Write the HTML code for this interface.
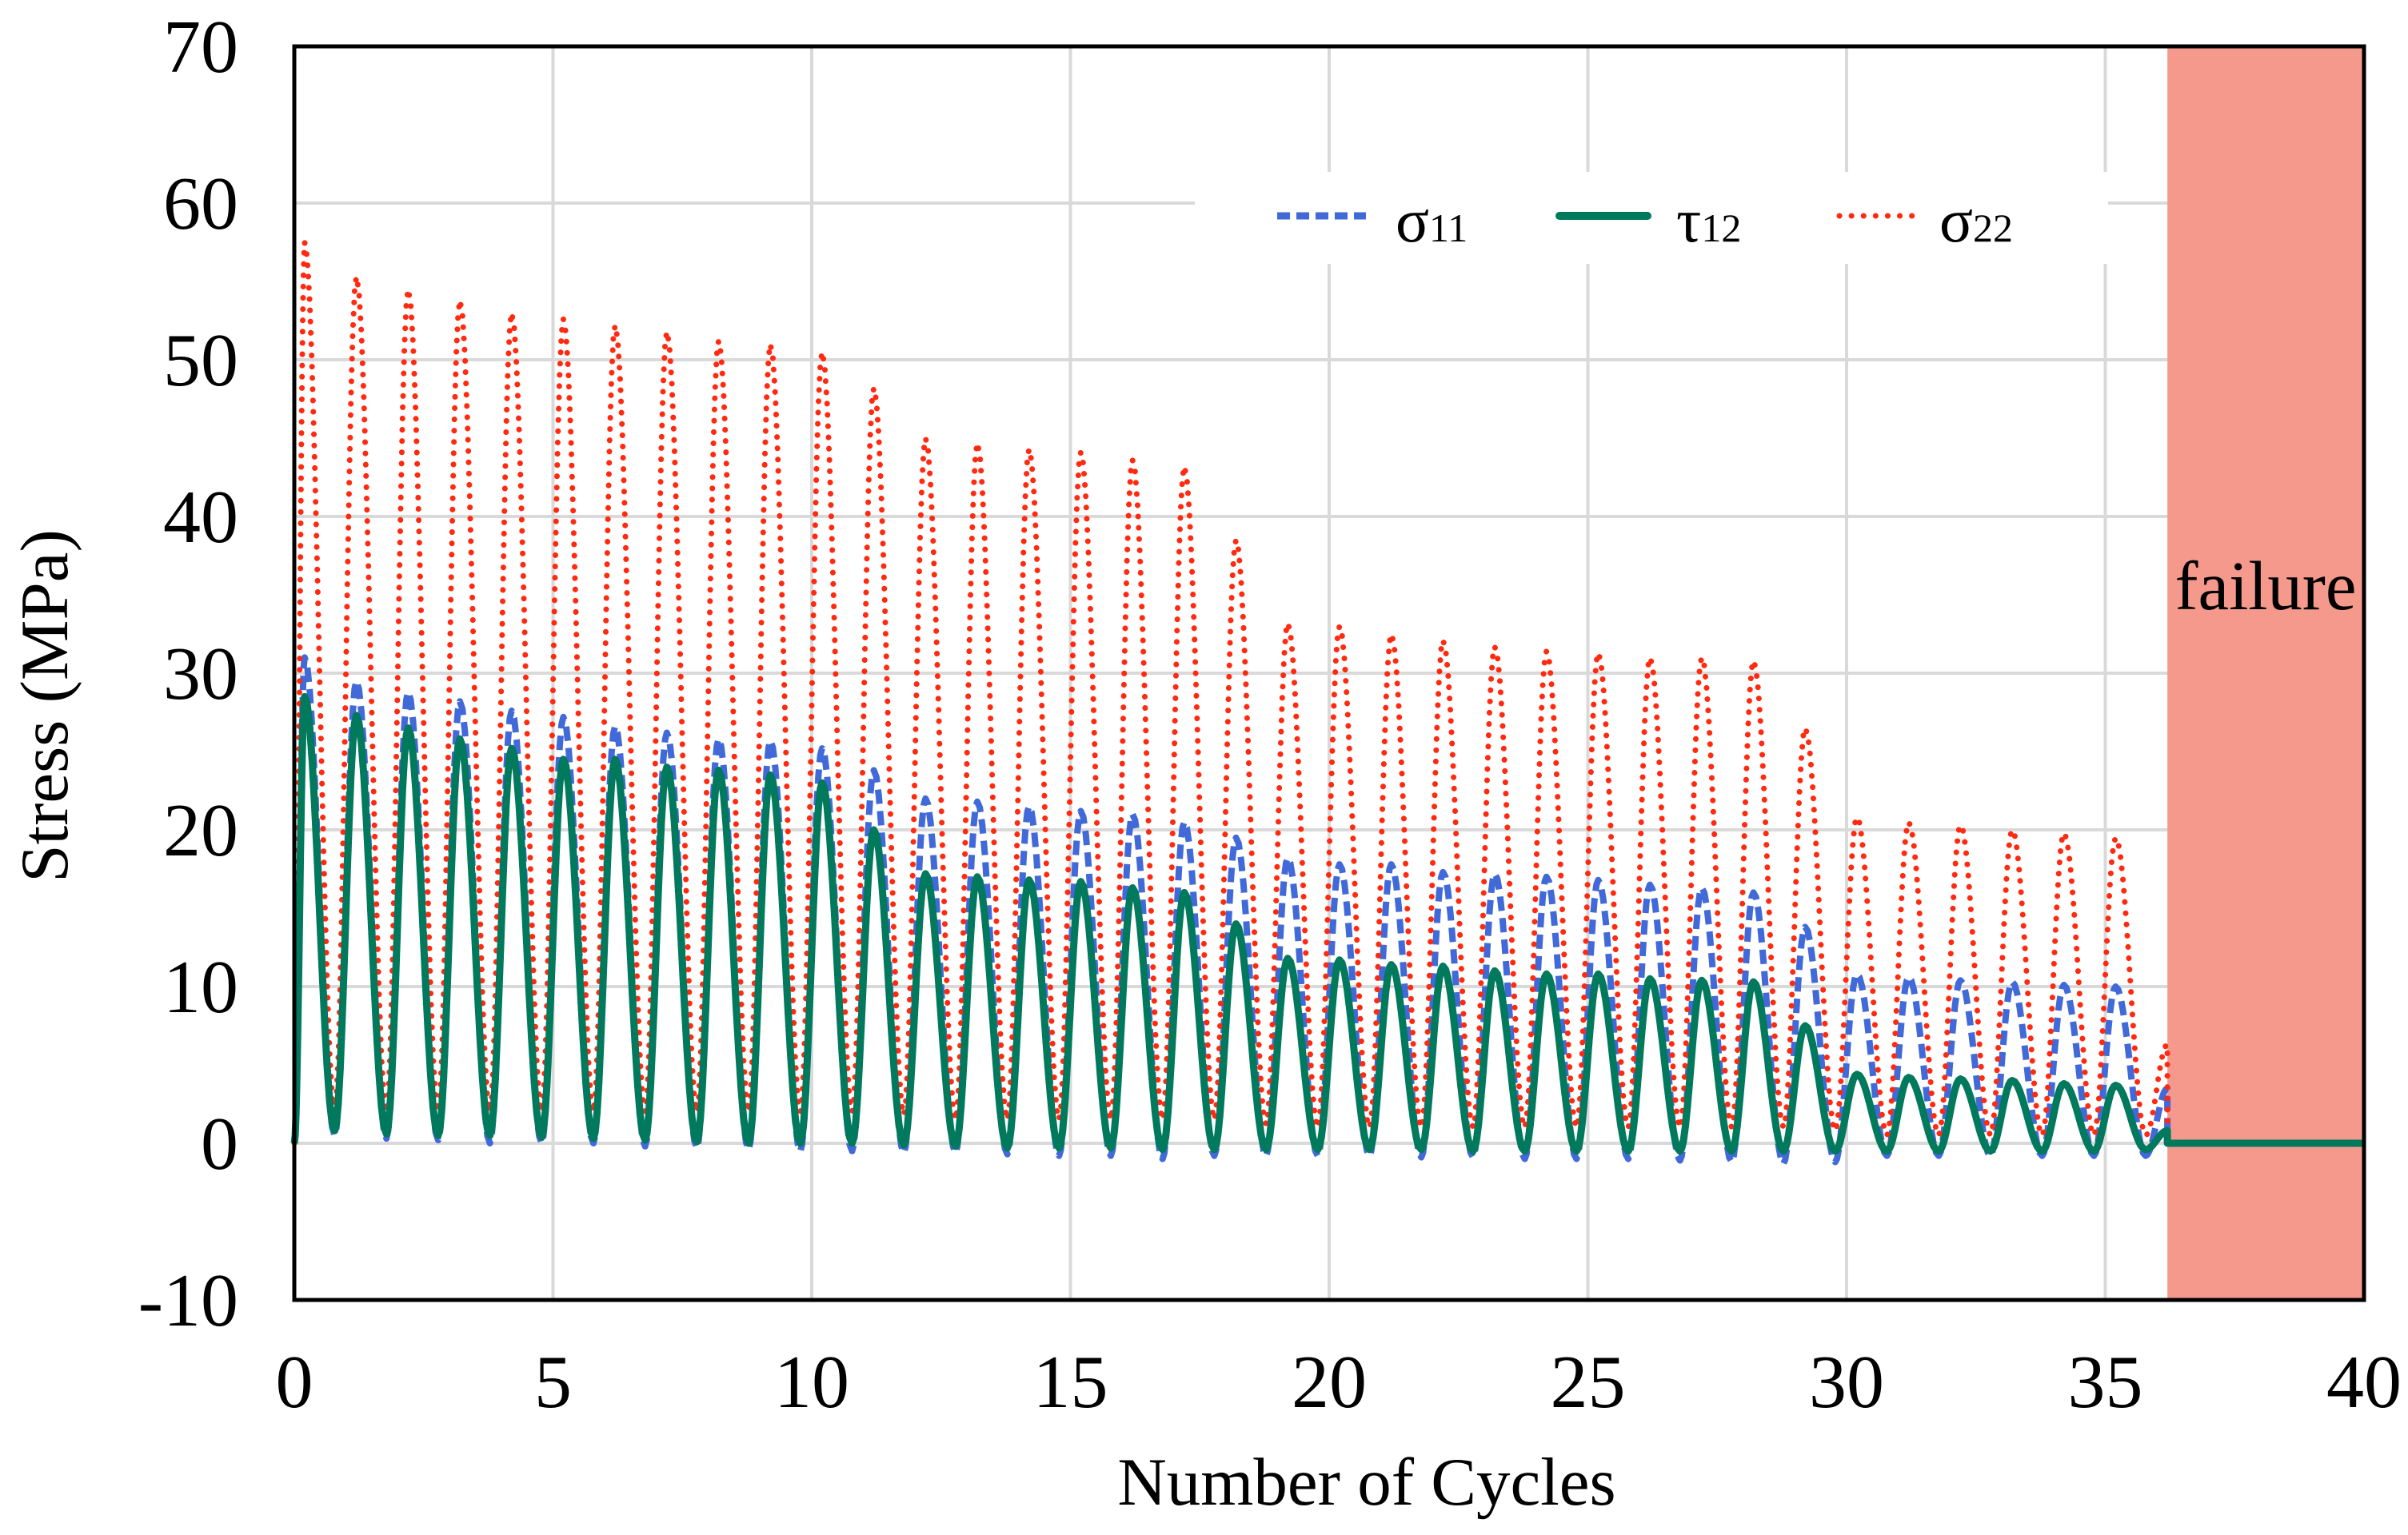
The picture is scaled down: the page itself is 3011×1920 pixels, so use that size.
<!DOCTYPE html>
<html><head><meta charset="utf-8"><style>
html,body{margin:0;padding:0;background:#fff;}
svg{display:block;font-family:"Liberation Serif",serif;}
</style></head><body>
<svg id="chart" width="3011" height="1920" viewBox="0 0 3011 1920" xmlns="http://www.w3.org/2000/svg">
<g id="grid"></g>
<rect id="failure" fill="#f4998b"/>
<g id="series"></g>
<g id="axes"></g>
<g id="legend">
  <rect x="1494" y="215" width="1142" height="115" fill="#fff"/>
  <line x1="1597" y1="270" x2="1708" y2="270" stroke="#4169d8" stroke-width="9" stroke-dasharray="16,8"/>
  <text x="1745" y="302" font-size="78">σ<tspan font-size="50">11</tspan></text>
  <line x1="1950" y1="270" x2="2060" y2="270" stroke="#00795c" stroke-width="10" stroke-linecap="round"/>
  <text x="2096" y="302" font-size="78">τ<tspan font-size="50">12</tspan></text>
  <line x1="2300" y1="270" x2="2400" y2="270" stroke="#ff2a10" stroke-width="7" stroke-linecap="round" stroke-dasharray="0.1,15"/>
  <text x="2425" y="302" font-size="78">σ<tspan font-size="50">22</tspan></text>
</g>
<text x="2833" y="762" font-size="87" text-anchor="middle">failure</text>
<text x="1709" y="1882" font-size="85" text-anchor="middle">Number of Cycles</text>
<text x="0" y="0" font-size="85" text-anchor="middle" transform="translate(84,883) rotate(-90)">Stress (MPa)</text>
</svg>
<script>
const xTicks=[0,5,10,15,20,25,30,35,40];
const yTicks=[-10,0,10,20,30,40,50,60,70];
const failureStart=36.2;
const peakOffset=0.2;
const troughOffset=0.78;
const s22Peaks=[57.5,55.3,54.5,53.8,53,52.6,52.2,51.8,51.2,51,50.5,48.2,45,44.7,44.3,44.1,43.6,43.2,38.5,33.2,33,32.5,32.1,31.7,31.4,31.3,31,31,30.8,26.5,20.8,20.5,20.3,20,19.8,19.5,6.3];
const s22Troughs=[2,2,2,2,2,2,2,2,2,2,2,1.8,1.5,1.5,1.5,1.5,1.5,1.5,1.2,1,1,1,1,1,1,1,1,1,1,0.8,0.5,0.5,0.5,0.5,0.5,0.5,0];
const s11Peaks=[31,29.5,28.8,28.2,27.6,27.2,26.6,26.2,25.8,25.7,25.2,23.8,22,21.8,21.5,21.2,21,20.5,19.5,18.2,17.8,17.8,17.3,17.2,17,16.8,16.5,16.3,16,13.8,10.8,10.6,10.4,10.3,10.1,10,3.5];
const s11Troughs=[0.5,0.3,0.2,0,0,0,-0.2,-0.3,-0.4,-0.5,-0.5,-0.6,-0.6,-0.7,-0.8,-0.8,-1,-0.8,-0.8,-0.8,-0.8,-0.9,-0.9,-1,-1,-1,-1.1,-1.2,-1.3,-1.2,-0.8,-0.8,-0.8,-0.8,-0.8,-0.8,0];
const t12Peaks=[28.5,27.3,26.5,25.8,25.2,24.5,24.5,24,23.8,23.5,23,20,17.2,17,16.8,16.7,16.3,16,14,11.8,11.7,11.4,11.3,11,10.8,10.8,10.5,10.4,10.3,7.5,4.4,4.2,4.1,4,3.8,3.7,0.8];
const t12Troughs=[0.8,0.6,0.5,0.5,0.4,0.3,0.2,0.1,0,0,0,-0.1,-0.2,-0.3,-0.3,-0.3,-0.4,-0.4,-0.4,-0.4,-0.4,-0.4,-0.5,-0.5,-0.5,-0.5,-0.5,-0.5,-0.5,-0.5,-0.5,-0.5,-0.5,-0.5,-0.5,-0.4,0];

const L=368,R=2956,T=58,B=1626;
const xs=v=>L+(v-0)/(40-0)*(R-L);
const ys=v=>B-(v-(-10))/(70-(-10))*(B-T);
const NS="http://www.w3.org/2000/svg";
function mk(tag,attrs,parent){const e=document.createElementNS(NS,tag);for(const k in attrs)e.setAttribute(k,attrs[k]);parent.appendChild(e);return e;}

const grid=document.getElementById('grid');
xTicks.forEach(v=>{if(v===0)return;
 const l=mk('line',{x1:xs(v),x2:xs(v),y1:T,y2:B,stroke:'#d9d9d9','stroke-width':4},grid);
 
 });
yTicks.forEach(v=>{
 const l=mk('line',{x1:L,x2:R,y1:ys(v),y2:ys(v),stroke:'#d9d9d9','stroke-width':4},grid);
 
 });

const fr=document.getElementById('failure');
fr.setAttribute('x',xs(failureStart));fr.setAttribute('y',T);
fr.setAttribute('width',xs(40)-xs(failureStart));fr.setAttribute('height',B-T);

function buildPath(peaks,troughs){
 const pts=[[0,0]];
 for(let i=0;i<peaks.length;i++){pts.push([i+peakOffset,peaks[i]]);pts.push([i+troughOffset,troughs[i]]);}
 pts[pts.length-1]=[failureStart,0];
 let d='M'+xs(0)+','+ys(0);
 for(let k=1;k<pts.length;k++){
  const [x0,y0]=pts[k-1],[x1,y1]=pts[k];
  const n=12;
  for(let j=1;j<=n;j++){const t=j/n;const f=(1-Math.cos(Math.PI*t))/2;
   d+=' L'+xs(x0+(x1-x0)*t).toFixed(1)+','+ys(y0+(y1-y0)*f).toFixed(1);}
 }
 d+=' L'+xs(40)+','+ys(0);
 return d;
}
const series=document.getElementById('series');
const p11=mk('path',{d:buildPath(s11Peaks,s11Troughs),fill:'none',stroke:'#4169d8','stroke-width':8,'stroke-dasharray':'18,9','stroke-linejoin':'round'},series);


const p22=mk('path',{d:buildPath(s22Peaks,s22Troughs),fill:'none',stroke:'#ff2a10','stroke-width':7,'stroke-linecap':'round','stroke-dasharray':'0.1,14'},series);


const p12=mk('path',{d:buildPath(t12Peaks,t12Troughs),fill:'none',stroke:'#00795c','stroke-width':9,'stroke-linejoin':'round'},series);



const axes=document.getElementById('axes');
const frame=mk('rect',{x:L,y:T,width:R-L,height:B-T,fill:'none',stroke:'#000','stroke-width':5},axes);


xTicks.forEach(v=>{
 const t=mk('text',{x:xs(v),y:1760,'font-size':94,'text-anchor':'middle'},axes);t.textContent=v;
 
 });
yTicks.forEach(v=>{
 const t=mk('text',{x:298,y:ys(v)+32,'font-size':94,'text-anchor':'end'},axes);t.textContent=v;
 
 });
</script>
</body></html>
